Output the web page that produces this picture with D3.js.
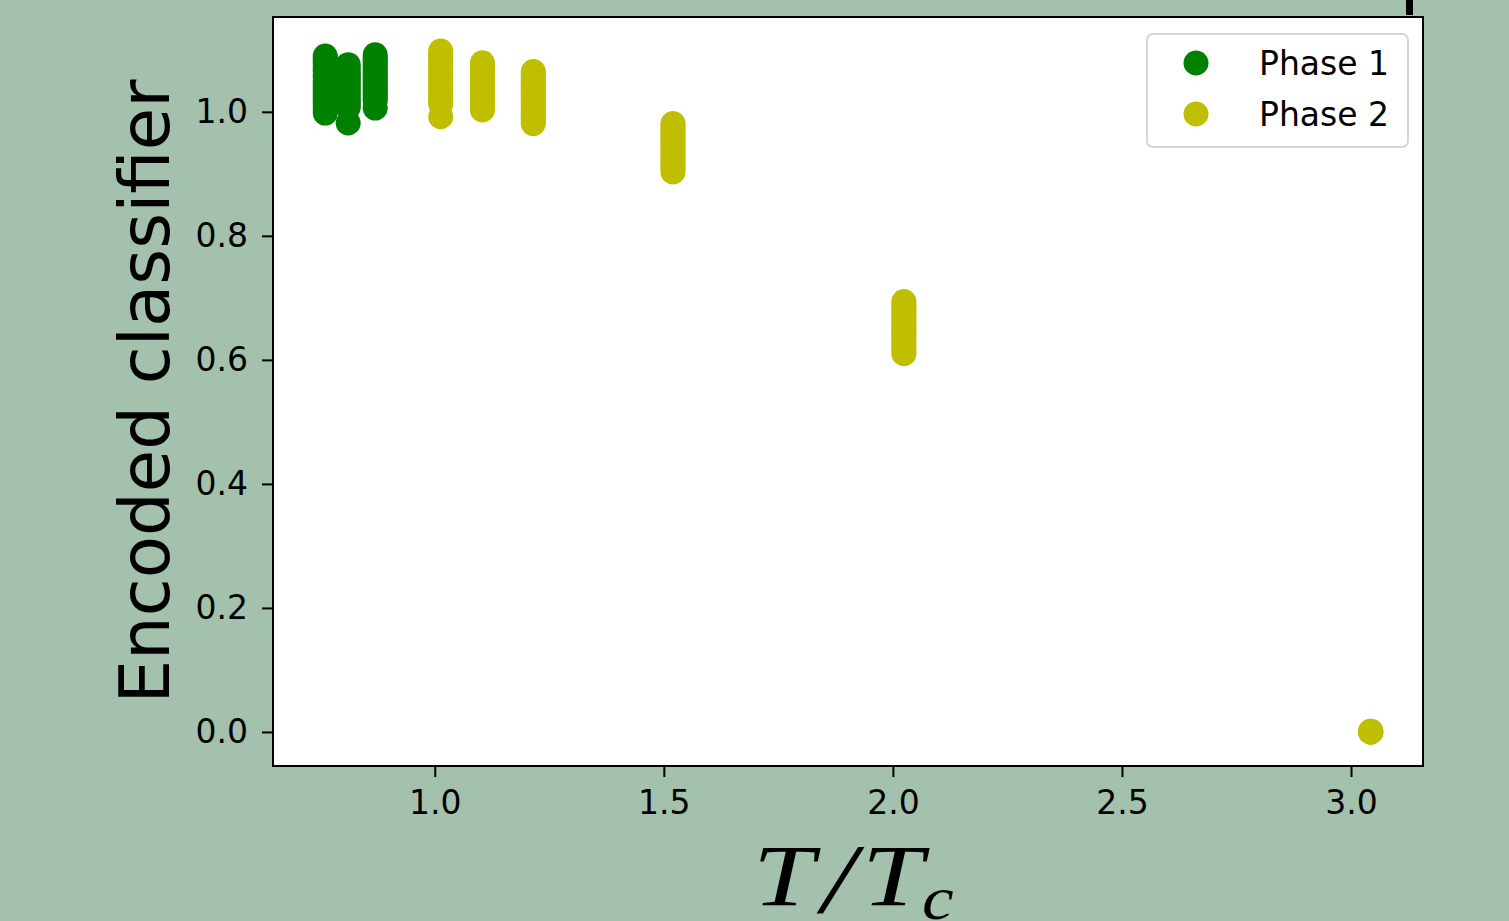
<!DOCTYPE html>
<html>
<head>
<meta charset="utf-8">
<script src="https://cdn.jsdelivr.net/npm/d3@7"></script>
<style>
  html, body { margin: 0; padding: 0; background: #a3c1ad; }
  svg { display: block; }
</style>
</head>
<body>
<svg id="chart" width="1509" height="921"></svg>
<script>
// Reduced temperatures at which the classifier was evaluated
const temperatures = [0.761, 0.811, 0.870, 1.013, 1.104, 1.215, 1.520, 2.024, 3.043];
// Phase label for each temperature
const phaseOfTemperature = [1, 1, 1, 2, 2, 2, 2, 2, 2];

// Encoded classifier output for every sample, one list per temperature
const outT0761 = [1.090, 1.086, 1.082, 1.078, 1.073, 1.068, 1.065, 1.059, 1.055, 1.050, 1.046, 1.041, 1.036, 1.031, 1.027, 1.022, 1.017, 1.013, 1.008, 1.003, 0.998];
const outT0811 = [1.076, 1.072, 1.066, 1.061, 1.057, 1.053, 1.048, 1.044, 1.039, 1.034, 1.030, 1.025, 1.020, 1.016, 1.011, 1.007, 0.982];
const outT0870 = [1.092, 1.087, 1.083, 1.078, 1.073, 1.069, 1.064, 1.059, 1.055, 1.050, 1.046, 1.041, 1.036, 1.032, 1.027, 1.022, 1.018, 1.006];
const outT1013 = [1.098, 1.093, 1.089, 1.084, 1.080, 1.075, 1.071, 1.067, 1.062, 1.058, 1.053, 1.049, 1.045, 1.040, 1.036, 1.031, 1.027, 1.022, 1.018, 1.013, 0.992];
const outT1104 = [1.079, 1.074, 1.070, 1.066, 1.061, 1.057, 1.052, 1.047, 1.043, 1.039, 1.034, 1.030, 1.025, 1.021, 1.016, 1.012, 1.007, 1.003];
const outT1215 = [1.065, 1.060, 1.056, 1.051, 1.047, 1.043, 1.038, 1.033, 1.029, 1.025, 1.020, 1.016, 1.011, 1.006, 1.002, 0.997, 0.993, 0.988, 0.984, 0.981];
const outT1520 = [0.981, 0.977, 0.972, 0.967, 0.963, 0.958, 0.953, 0.949, 0.945, 0.940, 0.935, 0.931, 0.926, 0.922, 0.917, 0.912, 0.908, 0.903];
const outT2024 = [0.694, 0.689, 0.685, 0.680, 0.675, 0.671, 0.666, 0.662, 0.657, 0.652, 0.648, 0.643, 0.639, 0.634, 0.629, 0.625, 0.620, 0.615, 0.610];
const outT3043 = [0.000, 0.001, 0.000, 0.000, 0.001, 0.000];

const outputsByTemperature = [outT0761, outT0811, outT0870, outT1013, outT1104, outT1215, outT1520, outT2024, outT3043];

const phaseNames = ["Phase 1", "Phase 2"];
const phaseColors = ["#008000", "#bfbf00"];

const xTicks = [1.0, 1.5, 2.0, 2.5, 3.0];
const yTicks = [0.0, 0.2, 0.4, 0.6, 0.8, 1.0];

// ---- layout ----
const plot = { left: 273, right: 1423, top: 17, bottom: 766 };
const markerRadius = 12.5;

const svg = d3.select("#chart");

// Flatten into points
const points = [];
temperatures.forEach((t, i) => {
  outputsByTemperature[i].forEach(v => points.push({ t, v, phase: phaseOfTemperature[i] }));
});

// 5% margin around the data on both axes
const tMin = d3.min(temperatures), tMax = d3.max(temperatures);
const vMin = d3.min(points, d => d.v), vMax = d3.max(points, d => d.v);
const tPad = (tMax - tMin) * 0.05, vPad = (vMax - vMin) * 0.05;

const x = d3.scaleLinear().domain([tMin - tPad, tMax + tPad]).range([plot.left, plot.right]);
const y = d3.scaleLinear().domain([vMin - vPad, vMax + vPad]).range([plot.bottom, plot.top]);

// plot background
svg.append("rect")
  .attr("x", plot.left).attr("y", plot.top)
  .attr("width", plot.right - plot.left).attr("height", plot.bottom - plot.top)
  .attr("fill", "#ffffff");

// scatter, phase 1 first then phase 2
const marks = svg.append("g");
[1, 2].forEach(ph => {
  marks.selectAll(null)
    .data(points.filter(d => d.phase === ph))
    .enter().append("circle")
    .attr("cx", d => x(d.t))
    .attr("cy", d => y(d.v))
    .attr("r", markerRadius)
    .attr("fill", phaseColors[ph - 1]);
});

// frame
svg.append("rect")
  .attr("x", plot.left).attr("y", plot.top)
  .attr("width", plot.right - plot.left).attr("height", plot.bottom - plot.top)
  .attr("fill", "none").attr("stroke", "#000").attr("stroke-width", 2);

// axes
const fmt = d3.format(".1f");
const xAxis = svg.append("g")
  .attr("transform", `translate(0,${plot.bottom})`)
  .call(d3.axisBottom(x).tickValues(xTicks).tickFormat(fmt).tickSize(11).tickPadding(14));
const yAxis = svg.append("g")
  .attr("transform", `translate(${plot.left},0)`)
  .call(d3.axisLeft(y).tickValues(yTicks).tickFormat(fmt).tickSize(11).tickPadding(14));

[xAxis, yAxis].forEach(a => {
  a.select(".domain").remove();
  a.selectAll(".tick line").attr("stroke", "#000").attr("stroke-width", 2);
  a.selectAll(".tick text")
    .attr("fill", "#000")
    .style("font-family", "'DejaVu Sans', sans-serif")
    .style("font-size", "33px");
});

// y axis title
svg.append("text")
  .attr("transform", `translate(169,${(plot.top + plot.bottom) / 2}) rotate(-90)`)
  .attr("text-anchor", "middle")
  .style("font-family", "'DejaVu Sans', sans-serif")
  .style("font-size", "69px")
  .attr("fill", "#000")
  .text("Encoded classifier");

// x axis title: T / T_c in math italic, glyph by glyph
const mathFont = "'Liberation Serif', 'Times New Roman', serif";
const glyphs = [
  { s: "T", x: 753, y: 905, size: 86, sx: 1.28 },
  { s: "/", x: 822, y: 912, size: 100, sx: 1.2 },
  { s: "T", x: 862, y: 905, size: 86, sx: 1.28 },
  { s: "c", x: 922, y: 919, size: 62, sx: 1.15 }
];
const xTitle = svg.append("g");
glyphs.forEach(g => {
  xTitle.append("text")
    .attr("transform", `translate(${g.x},${g.y}) scale(${g.sx},1)`)
    .style("font-family", mathFont)
    .style("font-style", "italic")
    .style("font-size", g.size + "px")
    .attr("fill", "#000")
    .text(g.s);
});

// legend
const lg = svg.append("g");
lg.append("rect")
  .attr("x", 1147).attr("y", 34).attr("width", 261).attr("height", 113).attr("rx", 6)
  .attr("fill", "#fff").attr("stroke", "#d6d6d6").attr("stroke-width", 2);
phaseNames.forEach((name, i) => {
  lg.append("circle").attr("cx", 1196).attr("cy", 63 + i * 51).attr("r", markerRadius).attr("fill", phaseColors[i]);
  lg.append("text")
    .attr("x", 1259).attr("y", 75 + i * 51)
    .style("font-family", "'DejaVu Sans', sans-serif")
    .style("font-size", "33px")
    .attr("fill", "#000")
    .text(name);
});

// small black marker stub at the top edge
svg.append("line")
  .attr("x1", 1409.5).attr("x2", 1409.5).attr("y1", 0).attr("y2", 15)
  .attr("stroke", "#000").attr("stroke-width", 7);
</script>
</body>
</html>
